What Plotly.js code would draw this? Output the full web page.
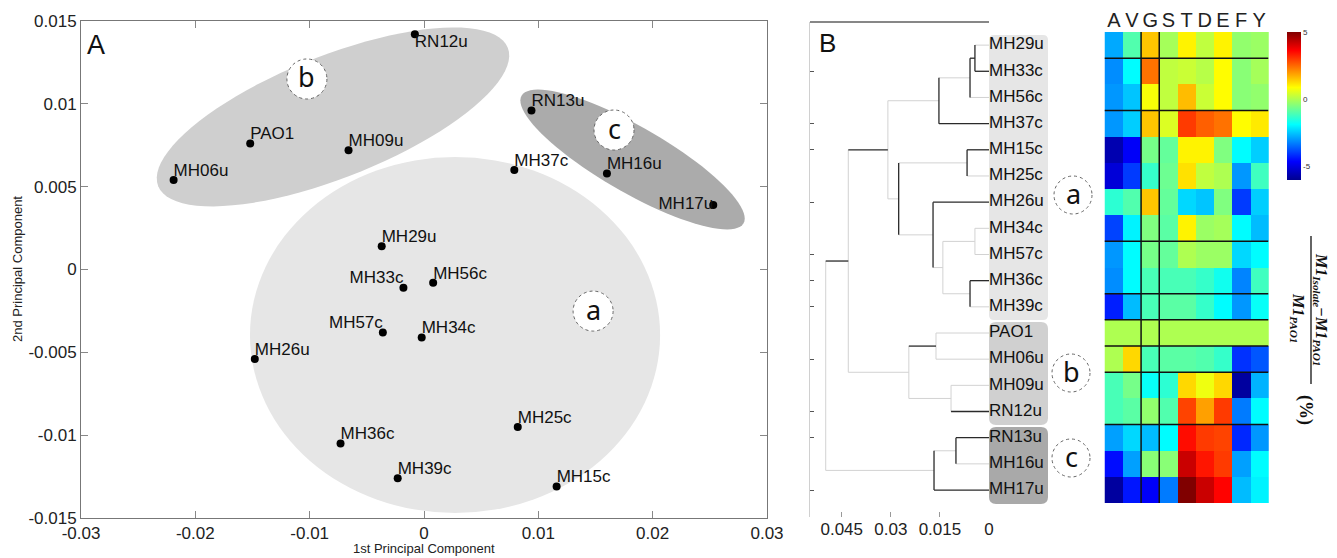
<!DOCTYPE html>
<html><head><meta charset="utf-8">
<script src="https://cdn.plot.ly/plotly-3.0.1.min.js"></script>
<style>html,body{margin:0;padding:0;background:#fff}#chart{width:1337px;height:558px}</style>
</head><body><div id="chart"></div><script>
// ---------- DATA ----------
// Panel A: PCA scores
const pcaNames = ['RN12u','PAO1','MH09u','MH06u','MH29u','RN13u','MH37c','MH16u','MH17u','MH33c','MH56c','MH57c','MH34c','MH26u','MH36c','MH39c','MH25c','MH15c'];
const pc1 = [-0.0008,-0.0152,-0.0066,-0.0219,-0.0037,0.0094,0.0079,0.0160,0.0253,-0.0018,0.0008,-0.0036,-0.0002,-0.0148,-0.0073,-0.0023,0.0082,0.0116];
const pc2 = [0.0142,0.0076,0.0072,0.0054,0.0014,0.0096,0.0060,0.0058,0.0039,-0.0011,-0.0008,-0.0038,-0.0041,-0.0054,-0.0105,-0.0126,-0.0095,-0.0131];
const xTickVals = [-0.03,-0.02,-0.01,0,0.01,0.02,0.03];
const xTickText = ['-0.03','-0.02','-0.01','0','0.01','0.02','0.03'];
const yTickVals = [-0.015,-0.01,-0.005,0,0.005,0.01,0.015];
const yTickText = ['-0.015','-0.01','-0.005','0','0.005','0.01','0.015'];

// Panel B: dendrogram (leaf order top->bottom) and linkage [child1, child2, height]
const leafNames = ['MH29u','MH33c','MH56c','MH37c','MH15c','MH25c','MH26u','MH34c','MH57c','MH36c','MH39c','PAO1','MH06u','MH09u','RN12u','RN13u','MH16u','MH17u'];
const linkChild1 = [0,18,19,4,7,9,22,6,21,20,11,13,28,27,15,32,31];
const linkChild2 = [1,2,3,5,8,10,23,24,25,26,12,14,29,30,16,17,33];
const linkHeight = [0.0043,0.0058,0.0153,0.0067,0.0043,0.0058,0.0141,0.0171,0.0276,0.0309,0.0162,0.0116,0.0245,0.0430,0.0101,0.0168,0.0499];
const dendTickVals = [0.045,0.03,0.015,0];
const dendTickText = ['0.045','0.03','0.015','0'];

// Heatmap: columns and values (% change vs PAO1), rows in leaf order
const hmCols = ['A','V','G','S','T','D','E','F','Y'];
const hmValues = [
 [-2.8,-1.0, 1.5,-0.1, 1.0, 0.2, 1.0,-0.3,-0.2],
 [-3.1,-1.9, 2.4, 0.2, 0.3, 0.1, 0.9,-0.4,-0.1],
 [-3.0,-2.5, 0.8, 0.2, 1.6, 0.3, 0.9,-0.4,-0.3],
 [-3.0,-2.4, 1.5, 0.5, 3.0, 2.6, 2.4, 0.9, 1.1],
 [-5.6,-4.7,-0.6,-0.8, 1.0, 1.0,-0.5,-1.9,-2.4],
 [-5.1,-4.0,-1.3,-0.7, 1.2, 0.2, 0.0,-3.0,-1.2],
 [-1.4,-1.0, 1.5,-0.8,-2.3,-2.5,-0.5,-4.0,-2.4],
 [-3.9,-2.0,-0.5,-0.9, 1.0,-0.2,-0.1,-1.9,-2.6],
 [-3.0,-1.9,-0.6,-0.8, 0.0,-0.2,-0.2,-2.3,-1.9],
 [-3.1,-1.9,-1.1,-1.1,-1.1,-1.3,-1.7,-3.2,-1.2],
 [-4.3,-2.6,-1.1,-0.9,-0.9,-1.3,-1.9,-3.0,-1.8],
 [ 0.0, 0.0, 0.0, 0.0, 0.0, 0.0, 0.0, 0.0, 0.0],
 [ 0.0, 1.3,-1.1,-0.9,-0.9,-1.0,-1.3,-4.1,-3.7],
 [-1.1,-0.6,-1.8,-1.4, 1.3, 0.7, 1.3,-5.8,-2.7],
 [-1.1,-0.9,-0.3,-1.0, 2.9, 1.9, 3.0,-3.3,-1.9],
 [-2.9,-2.3,-2.6,-1.9, 3.5, 3.0, 2.9,-4.2,-3.0],
 [-4.5,-2.9,-0.4,-0.4, 4.2, 3.4, 3.0,-2.9,-1.9],
 [-5.8,-4.4,-4.7,-3.3, 5.0, 4.2, 3.6,-2.6,-2.0]
];
const cbTickVals = [-5,0,5];
const cbTickText = ['-5','0','5'];

// ---------- LAYOUT HELPERS (pixel geometry) ----------
const W = 1337, H = 558;
const PX = p => p / W, PY = p => 1 - p / H;
const FONT = 'Arial, "Liberation Sans", sans-serif';
const A_X = [81, 767], A_Y = [21, 518];          // panel A plot box (px)
const B_X = [810, 989], B_Y = [22, 517];         // panel B plot box
const HM_X = [1104, 1269], HM_Y = [32, 503];     // heatmap box
const sx = (A_X[1] - A_X[0]) / 0.06, sy = (A_Y[1] - A_Y[0]) / 0.03; // px per data unit

// rotated ellipse path in data coords (center data, semi-axes px, angle deg)
function ellipsePath(cx, cy, a, b, deg) {
  const th = deg * Math.PI / 180; let d = '';
  for (let i = 0; i <= 90; i++) {
    const t = 2 * Math.PI * i / 90;
    const dx = a * Math.cos(t) * Math.cos(th) - b * Math.sin(t) * Math.sin(th);
    const dy = a * Math.cos(t) * Math.sin(th) + b * Math.sin(t) * Math.cos(th);
    d += (i ? 'L' : 'M') + (cx + dx / sx).toFixed(6) + ',' + (cy + dy / sy).toFixed(6);
  }
  return d + 'Z';
}
function roundRect(x0, y0, x1, y1, r) { // px -> paper path
  const f = (x, y) => PX(x).toFixed(5) + ',' + PY(y).toFixed(5);
  return 'M' + f(x0 + r, y0) + 'L' + f(x1 - r, y0) + 'Q' + f(x1, y0) + ' ' + f(x1, y0 + r) +
    'L' + f(x1, y1 - r) + 'Q' + f(x1, y1) + ' ' + f(x1 - r, y1) + 'L' + f(x0 + r, y1) +
    'Q' + f(x0, y1) + ' ' + f(x0, y1 - r) + 'L' + f(x0, y0 + r) + 'Q' + f(x0, y0) + ' ' + f(x0 + r, y0) + 'Z';
}

// ---------- PANEL A ----------
const labelPos = {RN12u:'bottom right', MH33c:'top left', MH57c:'top left', MH17u:'middle left'};
const textPositions = pcaNames.map(n => labelPos[n] || 'top right');
const tracePts = {x: pc1, y: pc2, xaxis:'x', yaxis:'y', mode:'markers', type:'scatter',
  marker:{color:'#000', size:8}, hoverinfo:'skip', showlegend:false};
const traceLbl = {x: pc1, y: pc2, xaxis:'x', yaxis:'y', mode:'text', type:'scatter', text: pcaNames,
  textposition: textPositions, textfont:{family:FONT, size:17, color:'#111'}, cliponaxis:false,
  hoverinfo:'skip', showlegend:false};

// ---------- PANEL B: dendrogram segments ----------
const vStyle   = ['D','D','D','D','L','D','L','D','D','L','L','L','L','L','D','D','L'];
const armStyle = ['L','D','L','D','D','L','D','L','L','D','L','L','L','L','D','D','L','D',
                  'D','L','L','L','L','L','L','L','L','D','D','L','L','D','L','L','L'];
const pos = leafNames.map((_, i) => i), ht = leafNames.map(() => 0);
const dark = {x:[], y:[]}, light = {x:[], y:[]};
linkHeight.forEach((h, k) => {
  const c1 = linkChild1[k], c2 = linkChild2[k], id = leafNames.length + k;
  pos[id] = (pos[c1] + pos[c2]) / 2; ht[id] = h;
  const v = vStyle[k] === 'D' ? dark : light;
  v.x.push(h, h, null); v.y.push(pos[c1], pos[c2], null);
  [c1, c2].forEach(c => { const a = armStyle[c] === 'D' ? dark : light;
    a.x.push(ht[c], h, null); a.y.push(pos[c], pos[c], null); });
});
const traceLight = {x: light.x, y: light.y, xaxis:'x2', yaxis:'y2', mode:'lines', type:'scatter',
  line:{color:'#d2d2d2', width:1}, hoverinfo:'skip', showlegend:false};
const traceDark = {x: dark.x, y: dark.y, xaxis:'x2', yaxis:'y2', mode:'lines', type:'scatter',
  line:{color:'#2a2a2a', width:1.3}, hoverinfo:'skip', showlegend:false};
const traceLeaf = {x: leafNames.map(() => 0), y: leafNames.map((_, i) => i), xaxis:'x2', yaxis:'y2',
  mode:'text', type:'scatter', text: leafNames, textposition:'middle right',
  textfont:{family:FONT, size:17, color:'#111'}, cliponaxis:false, hoverinfo:'skip', showlegend:false};

// ---------- HEATMAP ----------
const jet = [[0,'#00008f'],[0.125,'#0000ff'],[0.375,'#00ffff'],[0.625,'#ffff00'],[0.875,'#ff0000'],[1,'#800000']];
const traceHm = {type:'heatmap', z: hmValues, x: hmCols, y: leafNames.map((_, i) => i), xaxis:'x3', yaxis:'y3',
  zmin:-6, zmax:5, colorscale: jet, hoverinfo:'skip',
  colorbar:{x:PX(1287), xanchor:'left', y:PY(32), yanchor:'top', len:148/H, lenmode:'fraction',
    thickness:14, xpad:0, ypad:0, outlinewidth:0, tickvals: cbTickVals, ticktext: cbTickText,
    ticks:'', tickfont:{family:FONT, size:8, color:'#333'}}};

// ---------- SHAPES ----------
const shapes = [];
shapes.push({type:'circle', xref:'x', yref:'y', layer:'below', x0:-0.01522, x1:0.02065, y0:-0.0147, y1:0.00679,
  fillcolor:'#e6e6e6', line:{width:0}});
shapes.push({type:'path', xref:'x', yref:'y', layer:'below', path: ellipsePath(-0.00796, 0.00921, 188, 61, 21.6),
  fillcolor:'#cfcfcf', line:{width:0}});
shapes.push({type:'path', xref:'x', yref:'y', layer:'below', path: ellipsePath(0.01824, 0.00664, 128, 33, -29.9),
  fillcolor:'#ababab', line:{width:0}});
const badgeA = [['b',-0.01024,0.0115],['c',0.01662,0.00842],['a',0.01479,-0.00251]];
badgeA.forEach(bd => shapes.push({type:'circle', xref:'x', yref:'y', xsizemode:'pixel', ysizemode:'pixel',
  xanchor: bd[1], yanchor: bd[2], x0:-20, x1:20, y0:-20, y1:20, layer:'above',
  fillcolor:'#fff', line:{color:'#666', width:1, dash:'dot'}}));
shapes.push({type:'path', xref:'paper', yref:'paper', layer:'below', path: roundRect(989, 35, 1048, 320, 5), fillcolor:'#e6e6e6', line:{width:0}});
shapes.push({type:'path', xref:'paper', yref:'paper', layer:'below', path: roundRect(989, 322, 1048, 425, 7), fillcolor:'#d0d0d0', line:{width:0}});
shapes.push({type:'path', xref:'paper', yref:'paper', layer:'below', path: roundRect(989, 427, 1048, 504, 7), fillcolor:'#a9a9a9', line:{width:0}});
const badgeB = [['a',1073,195],['b',1071,373],['c',1071,458]];
badgeB.forEach(bd => shapes.push({type:'circle', xref:'paper', yref:'paper', x0:PX(bd[1]-19), x1:PX(bd[1]+19),
  y0:PY(bd[2]+19), y1:PY(bd[2]-19), fillcolor:'#fff', line:{color:'#666', width:1, dash:'dot'}}));
shapes.push({type:'line', xref:'paper', yref:'paper', x0:PX(810), x1:PX(989), y0:PY(22), y1:PY(22), line:{color:'#111', width:1.2}});
[1.5, 2.5].forEach(c => shapes.push({type:'line', xref:'x3', yref:'y3', x0:c, x1:c, y0:-0.5, y1:17.5, line:{color:'#111', width:1.5}}));
[0.5, 2.5, 7.5, 9.5, 10.5, 11.5, 12.5, 14.5].forEach(r => shapes.push({type:'line', xref:'x3', yref:'y3', x0:-0.5, x1:8.5, y0:r, y1:r, line:{color:'#111', width:1.5}}));
shapes.push({type:'line', xref:'paper', yref:'paper', x0:PX(1311), x1:PX(1311), y0:PY(236), y1:PY(384), line:{color:'#111', width:1.3}});

// ---------- ANNOTATIONS ----------
const ann = [];
const txt = (text, x, y, size, extra) => Object.assign({text, xref:'paper', yref:'paper', x:PX(x), y:PY(y),
  xanchor:'center', yanchor:'middle', showarrow:false, font:{family:FONT, size, color:'#111'}}, extra || {});
ann.push(txt('A', 96, 45, 27));
ann.push(txt('B', 827, 43, 26));
ann.push(txt('1st Principal Component', 424, 548, 13, {font:{family:FONT, size:13, color:'#222'}}));
ann.push(txt('2nd Principal Component', 18, 269, 13, {textangle:-90, font:{family:FONT, size:13, color:'#222'}}));
badgeA.forEach(bd => ann.push({text: bd[0], xref:'x', yref:'y', x: bd[1], y: bd[2], showarrow:false,
  xanchor:'center', yanchor:'middle', yshift:2, font:{family:'Noto Sans, sans-serif', size:27, color:'#111'}}));
badgeB.forEach(bd => ann.push(txt(bd[0], bd[1], bd[2] - 2, 27, {font:{family:'Noto Sans, sans-serif', size:27, color:'#111'}})));
const SERIF = '"Liberation Serif", "DejaVu Serif", serif';
ann.push(txt('<b><i>M1<sub>Isolate</sub>−M1<sub>PAO1</sub></i></b>', 1321, 309, 16, {textangle:90, font:{family:SERIF, size:16, color:'#111'}}));
ann.push(txt('<b><i>M1<sub>PAO1</sub></i></b>', 1298, 318, 16, {textangle:90, font:{family:SERIF, size:16, color:'#111'}}));
ann.push(txt('<b>(%)</b>', 1306, 410, 18, {textangle:90, font:{family:SERIF, size:18, color:'#111'}}));

// ---------- LAYOUT ----------
const tickFont = {family:FONT, size:17, color:'#222'};
const layout = {
  width:W, height:H, margin:{l:0, r:0, t:0, b:0}, paper_bgcolor:'#fff', plot_bgcolor:'#fff', showlegend:false,
  xaxis:{domain:[PX(A_X[0]), PX(A_X[1])], range:[-0.03, 0.03], anchor:'y', tickmode:'array', tickvals:xTickVals, ticktext:xTickText,
    ticks:'inside', ticklen:7, tickcolor:'#888', showline:true, linecolor:'#777', linewidth:1, mirror:'ticks',
    showgrid:false, zeroline:false, tickfont:tickFont, fixedrange:true},
  yaxis:{domain:[PY(A_Y[1]), PY(A_Y[0])], range:[-0.015, 0.015], anchor:'x', tickmode:'array', tickvals:yTickVals, ticktext:yTickText,
    ticks:'inside', ticklen:7, tickcolor:'#888', showline:true, linecolor:'#777', linewidth:1, mirror:'ticks',
    showgrid:false, zeroline:false, tickfont:tickFont, fixedrange:true},
  xaxis2:{domain:[PX(B_X[0]), PX(B_X[1])], range:[0.0547, 0], anchor:'y2', tickmode:'array', tickvals:dendTickVals, ticktext:dendTickText,
    ticks:'inside', ticklen:5, tickcolor:'#999', showline:false, showgrid:false, zeroline:false, tickfont:tickFont, fixedrange:true},
  yaxis2:{domain:[PY(B_Y[1]), PY(B_Y[0])], range:[18.03, -0.883], anchor:'x2', tickmode:'array', tickvals:[1,3,4,6,8,9,10,12,14,15,17],
    ticks:'inside', ticklen:4, tickcolor:'#555', showticklabels:false, showline:true, linecolor:'#d0d0d0',
    showgrid:false, zeroline:false, fixedrange:true},
  xaxis3:{domain:[PX(HM_X[0]), PX(HM_X[1])], anchor:'y3', side:'top', type:'category', tickmode:'array', tickvals:hmCols, ticktext:hmCols,
    ticks:'', showline:false, showgrid:false, zeroline:false,
    tickfont:{family:FONT, size:20, color:'#222'}, fixedrange:true},
  yaxis3:{domain:[PY(HM_Y[1]), PY(HM_Y[0])], range:[17.5, -0.5], anchor:'x3', showticklabels:false, ticks:'', showline:false,
    showgrid:false, zeroline:false, fixedrange:true},
  shapes: shapes, annotations: ann
};
Plotly.newPlot('chart', [tracePts, traceLbl, traceLight, traceDark, traceLeaf, traceHm], layout, {displayModeBar:false, staticPlot:true});
</script></body></html>
